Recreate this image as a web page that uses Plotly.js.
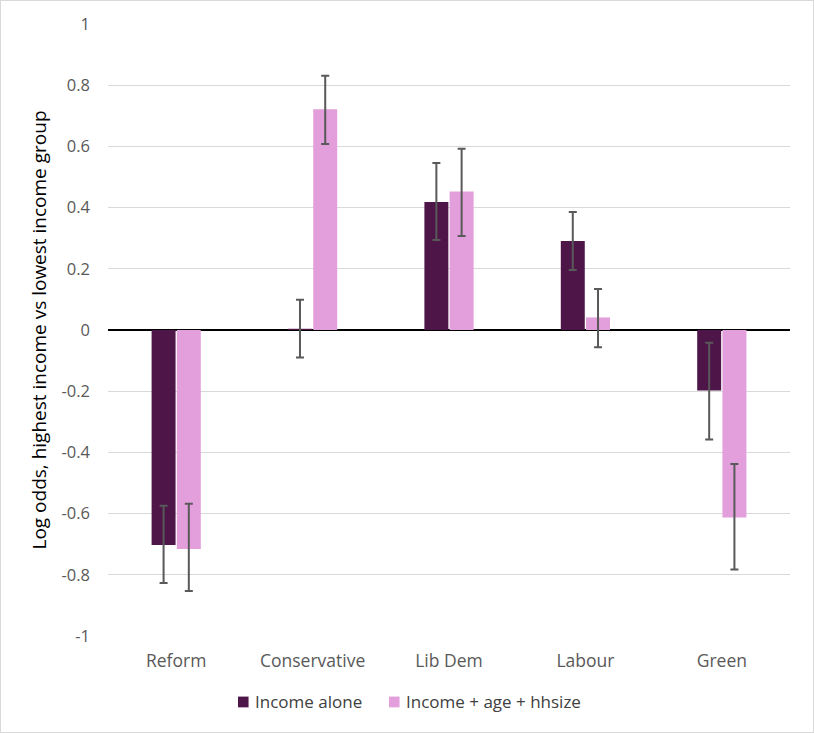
<!DOCTYPE html>
<html>
<head>
<meta charset="utf-8">
<script src="https://cdn.plot.ly/plotly-3.0.1.min.js"></script>
<style>
html,body{margin:0;padding:0;background:#fff;}
#chart{width:812px;height:731px;border:1px solid #d9d9d9;}
</style>
</head>
<body>
<div id="chart"></div>
<script>
var categories = ["Reform", "Conservative", "Lib Dem", "Labour", "Green"];
var seriesNames = ["Income alone", "Income + age + hhsize"];
var seriesColors = ["#4e1548", "#e39fdb"];

var incomeAlone      = [-0.703, 0.004, 0.418, 0.291, -0.198];
var incomeAloneUpper = [-0.574, 0.099, 0.546, 0.386, -0.042];
var incomeAloneLower = [-0.827, -0.090, 0.294, 0.196, -0.358];

var incomeAgeHh      = [-0.716, 0.721, 0.453, 0.041, -0.613];
var incomeAgeHhUpper = [-0.568, 0.831, 0.592, 0.134, -0.438];
var incomeAgeHhLower = [-0.853, 0.608, 0.307, -0.056, -0.783];

var yTickVals = [1, 0.8, 0.6, 0.4, 0.2, 0, -0.2, -0.4, -0.6, -0.8, -1];
var yTickText = ["1", "0.8", "0.6", "0.4", "0.2", "0", "-0.2", "-0.4", "-0.6", "-0.8", "-1"];

function plus(v, up) { return v.map(function (d, i) { return up[i] - d; }); }
function minus(v, lo) { return v.map(function (d, i) { return d - lo[i]; }); }

var errStyle = { color: "#595959", thickness: 2, width: 4 };

var traces = [
  {
    type: "bar", name: seriesNames[0], x: categories, y: incomeAlone,
    marker: { color: seriesColors[0] },
    error_y: Object.assign({ type: "data", symmetric: false,
      array: plus(incomeAlone, incomeAloneUpper),
      arrayminus: minus(incomeAlone, incomeAloneLower) }, errStyle)
  },
  {
    type: "bar", name: seriesNames[1], x: categories, y: incomeAgeHh,
    marker: { color: seriesColors[1] },
    error_y: Object.assign({ type: "data", symmetric: false,
      array: plus(incomeAgeHh, incomeAgeHhUpper),
      arrayminus: minus(incomeAgeHh, incomeAgeHhLower) }, errStyle)
  }
];

var font = "'Open Sans', sans-serif";

// custom legend (swatch + label), positioned in paper coordinates
var legendSwatchX = [0.1906, 0.4120];
var legendSwatchW = 0.0155;
var legendTextGap = 0.0065;
var legendY = -0.1078, legendH = 0.0088;
var shapes = [], annotations = [];
for (var i = 0; i < seriesNames.length; i++) {
  shapes.push({ type: "rect", xref: "paper", yref: "paper",
    x0: legendSwatchX[i], x1: legendSwatchX[i] + legendSwatchW,
    y0: legendY - legendH, y1: legendY + legendH,
    fillcolor: seriesColors[i], line: { width: 0 } });
  annotations.push({ xref: "paper", yref: "paper",
    x: legendSwatchX[i] + legendSwatchW + legendTextGap, y: legendY,
    xanchor: "left", yanchor: "middle", showarrow: false,
    text: seriesNames[i], font: { family: font, size: 17, color: "#404040" } });
}

var layout = {
  width: 812, height: 731,
  margin: { l: 107, r: 23, t: 23, b: 96 },
  paper_bgcolor: "#ffffff", plot_bgcolor: "#ffffff",
  barmode: "group", bargap: 0.63, bargroupgap: 0.05,
  font: { family: font, size: 14, color: "#595959" },
  showlegend: false,
  shapes: shapes,
  annotations: annotations,
  xaxis: {
    type: "category", showgrid: false, zeroline: false, showline: false,
    ticks: "", ticklabelstandoff: 12,
    tickfont: { family: font, size: 17.5, color: "#595959" }
  },
  yaxis: {
    range: [-1, 1], tickvals: yTickVals, ticktext: yTickText,
    showgrid: true, gridcolor: "#d9d9d9", gridwidth: 1,
    zeroline: true, zerolinecolor: "#000000", zerolinewidth: 1.5,
    showline: false, ticks: "", ticklabelstandoff: 17,
    tickfont: { family: font, size: 16.5, color: "#595959" },
    title: { text: "Log odds, highest income vs lowest income group",
      font: { family: font, size: 19, color: "#000000" }, standoff: 9 }
  }
};

Plotly.newPlot("chart", traces, layout, { displayModeBar: false, staticPlot: true });
</script>
</body>
</html>
